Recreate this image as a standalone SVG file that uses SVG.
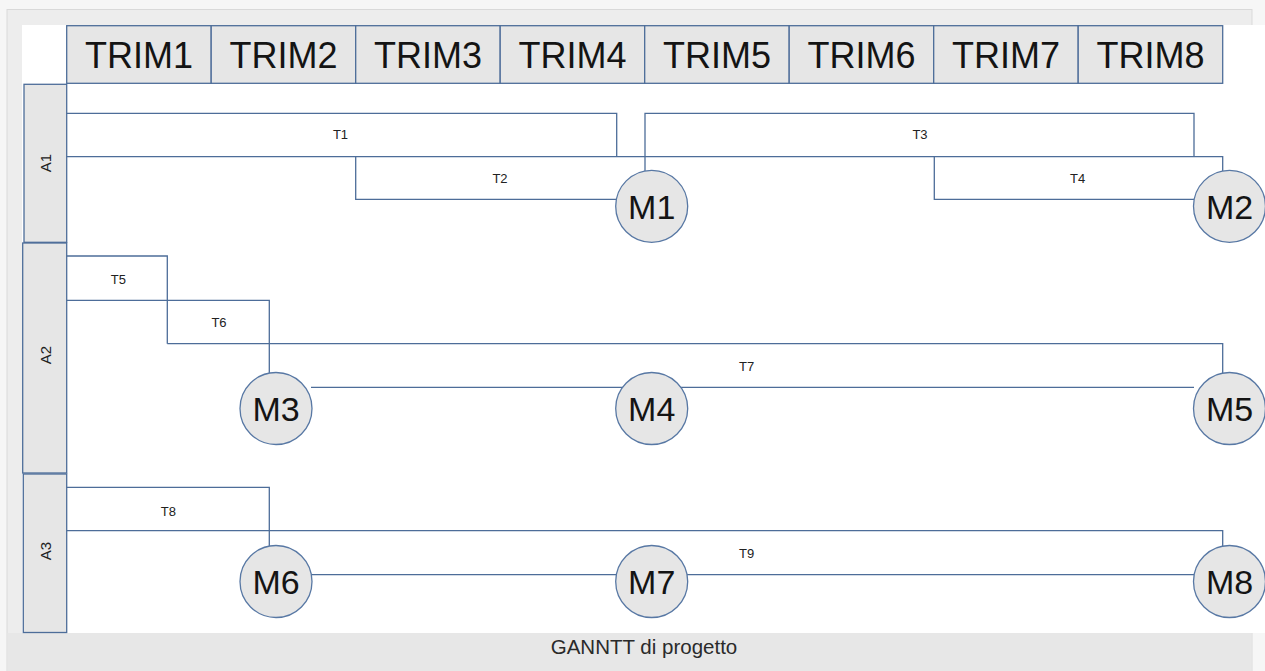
<svg xmlns="http://www.w3.org/2000/svg" width="1265" height="671" viewBox="0 0 1265 671">
  <defs>
    <style>
      .page { fill: #f6f6f6; }
      .panel { fill: #ededed; stroke: #d9d9d9; stroke-width: 1; }
      .caption-bar { fill: #e7e7e7; }
      .cell { fill: #e6e6e6; stroke: #4d6d99; stroke-width: 1.3; }
      .hdr { font-family: "Liberation Sans", Arial, sans-serif; font-size: 36px; fill: #141414; text-anchor: middle; }
      .lane { fill: #e6e6e6; stroke: #4d6d99; stroke-width: 1.3; }
      .lane-t { font-family: "Liberation Sans", Arial, sans-serif; font-size: 15px; fill: #222; text-anchor: middle; dominant-baseline: central; }
      .conn { fill: none; stroke: #4d6d99; stroke-width: 1.3; }
      .tl { font-family: "Liberation Sans", Arial, sans-serif; font-size: 13px; fill: #222; text-anchor: middle; }
      .ms { fill: #e6e6e6; stroke: #5878a4; stroke-width: 1.3; }
      .mt { font-family: "Liberation Sans", Arial, sans-serif; font-size: 34px; fill: #141414; text-anchor: middle; }
      .cap { font-family: "Liberation Sans", Arial, sans-serif; font-size: 20.5px; fill: #2a2a2a; text-anchor: middle; }
    </style>
  </defs>

  <g id="background">
    <rect class="page" x="0" y="0" width="1265" height="671"/>
    <rect class="panel" x="7" y="9.5" width="1245" height="670"/>
    <rect class="caption-bar" x="7.5" y="633" width="1244" height="38"/>
    <rect x="22" y="25" width="1243" height="608" fill="#ffffff"/>
    <text class="cap" x="644" y="654">GANNTT di progetto</text>
  </g>

  <g id="header">
    <g id="trim1"><rect class="cell" x="66.7" y="25.7" width="144.5" height="57.6"/><text class="hdr" x="138.95" y="67.7">TRIM1</text></g>
    <g id="trim2"><rect class="cell" x="211.2" y="25.7" width="144.5" height="57.6"/><text class="hdr" x="283.45" y="67.7">TRIM2</text></g>
    <g id="trim3"><rect class="cell" x="355.7" y="25.7" width="144.5" height="57.6"/><text class="hdr" x="427.95" y="67.7">TRIM3</text></g>
    <g id="trim4"><rect class="cell" x="500.2" y="25.7" width="144.5" height="57.6"/><text class="hdr" x="572.45" y="67.7">TRIM4</text></g>
    <g id="trim5"><rect class="cell" x="644.7" y="25.7" width="144.5" height="57.6"/><text class="hdr" x="716.95" y="67.7">TRIM5</text></g>
    <g id="trim6"><rect class="cell" x="789.2" y="25.7" width="144.5" height="57.6"/><text class="hdr" x="861.45" y="67.7">TRIM6</text></g>
    <g id="trim7"><rect class="cell" x="933.7" y="25.7" width="144.5" height="57.6"/><text class="hdr" x="1005.95" y="67.7">TRIM7</text></g>
    <g id="trim8"><rect class="cell" x="1078.2" y="25.7" width="144.5" height="57.6"/><text class="hdr" x="1150.45" y="67.7">TRIM8</text></g>
  </g>

  <g id="lanes">
    <g id="A1"><rect class="lane" x="24" y="84.3" width="42.7" height="158"/><text class="lane-t" transform="rotate(-90 45 163)" x="45" y="163">A1</text></g>
    <g id="A2"><rect class="lane" x="22.7" y="243" width="44" height="230"/><text class="lane-t" transform="rotate(-90 45 355)" x="45" y="355">A2</text></g>
    <g id="A3"><rect class="lane" x="23.3" y="474" width="43.4" height="158.5"/><text class="lane-t" transform="rotate(-90 45 551)" x="45" y="551">A3</text></g>
  </g>

  <g id="connectors">
    <path class="conn" d="M66.7 113.3 H616.7 V156.7"/>
    <path class="conn" d="M66.7 156.7 H1222.7 V171"/>
    <path class="conn" d="M355.7 156.7 V199.3 H617"/>
    <path class="conn" d="M645 171 V113.3 H1194 V156.7"/>
    <path class="conn" d="M934.3 156.7 V199.3 H1194"/>
    <path class="conn" d="M66.7 256 H167.3 V343.7"/>
    <path class="conn" d="M66.7 300.3 H269.3 V373"/>
    <path class="conn" d="M167.3 343.7 H1222.7 V373"/>
    <path class="conn" d="M311 387.3 H1194"/>
    <path class="conn" d="M66.7 487.3 H269.3 V546"/>
    <path class="conn" d="M66.7 530.7 H1222.7 V546"/>
    <path class="conn" d="M311 574.7 H1194"/>
    <text class="tl" x="340.5" y="139">T1</text>
    <text class="tl" x="500" y="183">T2</text>
    <text class="tl" x="920" y="139">T3</text>
    <text class="tl" x="1077.7" y="183">T4</text>
    <text class="tl" x="118.3" y="284">T5</text>
    <text class="tl" x="219" y="327">T6</text>
    <text class="tl" x="746.7" y="370.5">T7</text>
    <text class="tl" x="168.3" y="515.5">T8</text>
    <text class="tl" x="746.7" y="558">T9</text>
  </g>

  <g id="M1"><circle class="ms" cx="651.7" cy="206.3" r="36"/><text class="mt" x="651.7" y="218.5">M1</text></g>
  <g id="M2"><circle class="ms" cx="1229.5" cy="206.3" r="36"/><text class="mt" x="1229.5" y="218.5">M2</text></g>
  <g id="M3"><circle class="ms" cx="276" cy="408.5" r="36"/><text class="mt" x="276" y="420.7">M3</text></g>
  <g id="M4"><circle class="ms" cx="651.7" cy="408.5" r="36"/><text class="mt" x="651.7" y="420.7">M4</text></g>
  <g id="M5"><circle class="ms" cx="1229.5" cy="408.5" r="36"/><text class="mt" x="1229.5" y="420.7">M5</text></g>
  <g id="M6"><circle class="ms" cx="276" cy="581.5" r="36"/><text class="mt" x="276" y="593.7">M6</text></g>
  <g id="M7"><circle class="ms" cx="651.7" cy="581.5" r="36"/><text class="mt" x="651.7" y="593.7">M7</text></g>
  <g id="M8"><circle class="ms" cx="1229.5" cy="581.5" r="36"/><text class="mt" x="1229.5" y="593.7">M8</text></g>
</svg>
